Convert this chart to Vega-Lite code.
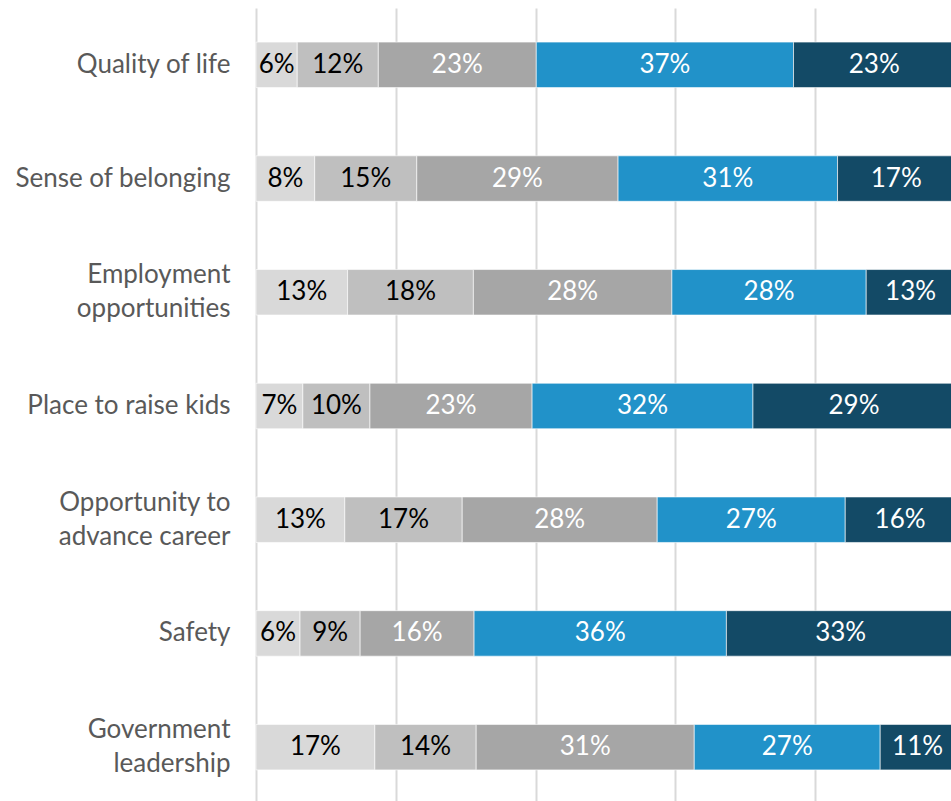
{
  "$schema": "https://vega.github.io/schema/vega-lite/v6.json",
  "width": 695,
  "height": 796,
  "autosize": {"type": "none"},
  "padding": {"left": 256, "top": 8, "right": 0, "bottom": 0},
  "background": "white",
  "config": {"view": {"stroke": null}, "font": "Lato"},
  "data": {
    "values": [
      {"item": "Quality of life", "level": 1, "share": 5.9, "label": "6%"},
      {"item": "Quality of life", "level": 2, "share": 11.6, "label": "12%"},
      {"item": "Quality of life", "level": 3, "share": 22.6, "label": "23%"},
      {"item": "Quality of life", "level": 4, "share": 36.8, "label": "37%"},
      {"item": "Quality of life", "level": 5, "share": 23.1, "label": "23%"},
      {"item": "Sense of belonging", "level": 1, "share": 8.4, "label": "8%"},
      {"item": "Sense of belonging", "level": 2, "share": 14.6, "label": "15%"},
      {"item": "Sense of belonging", "level": 3, "share": 28.8, "label": "29%"},
      {"item": "Sense of belonging", "level": 4, "share": 31.4, "label": "31%"},
      {"item": "Sense of belonging", "level": 5, "share": 16.8, "label": "17%"},
      {"item": "Employment|opportunities", "level": 1, "share": 13.1, "label": "13%"},
      {"item": "Employment|opportunities", "level": 2, "share": 18.0, "label": "18%"},
      {"item": "Employment|opportunities", "level": 3, "share": 28.4, "label": "28%"},
      {"item": "Employment|opportunities", "level": 4, "share": 27.8, "label": "28%"},
      {"item": "Employment|opportunities", "level": 5, "share": 12.7, "label": "13%"},
      {"item": "Place to raise kids", "level": 1, "share": 6.7, "label": "7%"},
      {"item": "Place to raise kids", "level": 2, "share": 9.6, "label": "10%"},
      {"item": "Place to raise kids", "level": 3, "share": 23.2, "label": "23%"},
      {"item": "Place to raise kids", "level": 4, "share": 31.6, "label": "32%"},
      {"item": "Place to raise kids", "level": 5, "share": 28.9, "label": "29%"},
      {"item": "Opportunity to|advance career", "level": 1, "share": 12.7, "label": "13%"},
      {"item": "Opportunity to|advance career", "level": 2, "share": 16.8, "label": "17%"},
      {"item": "Opportunity to|advance career", "level": 3, "share": 27.9, "label": "28%"},
      {"item": "Opportunity to|advance career", "level": 4, "share": 26.9, "label": "27%"},
      {"item": "Opportunity to|advance career", "level": 5, "share": 15.7, "label": "16%"},
      {"item": "Safety", "level": 1, "share": 6.3, "label": "6%"},
      {"item": "Safety", "level": 2, "share": 8.6, "label": "9%"},
      {"item": "Safety", "level": 3, "share": 16.3, "label": "16%"},
      {"item": "Safety", "level": 4, "share": 36.1, "label": "36%"},
      {"item": "Safety", "level": 5, "share": 32.7, "label": "33%"},
      {"item": "Government|leadership", "level": 1, "share": 17.0, "label": "17%"},
      {"item": "Government|leadership", "level": 2, "share": 14.5, "label": "14%"},
      {"item": "Government|leadership", "level": 3, "share": 31.2, "label": "31%"},
      {"item": "Government|leadership", "level": 4, "share": 26.6, "label": "27%"},
      {"item": "Government|leadership", "level": 5, "share": 10.7, "label": "11%"}
    ]
  },
  "encoding": {
    "y": {
      "field": "item",
      "type": "nominal",
      "sort": null,
      "title": null,
      "scale": {"paddingInner": 0.6, "paddingOuter": 0.3},
      "axis": {
        "domain": false,
        "ticks": false,
        "grid": false,
        "labelPadding": 26,
        "labelFont": "Lato",
        "labelFontSize": 26,
        "labelColor": "#595959",
        "labelLineHeight": 34,
        "labelLimit": 300,
        "labelOffset": {"condition": {"test": "indexof(datum.value, '|') >= 0", "value": -17}, "value": 0},
        "labelExpr": "split(datum.label, '|')"
      }
    },
    "x": {
      "field": "share",
      "type": "quantitative",
      "stack": "normalize",
      "title": null,
      "scale": {"domain": [0, 0.9943], "nice": false},
      "axis": {
        "values": [0, 0.2, 0.4, 0.6, 0.8],
        "labels": false,
        "ticks": false,
        "domain": false,
        "grid": true,
        "gridColor": "#d9d9d9",
        "gridWidth": 2
      }
    },
    "order": {"field": "level", "type": "quantitative"}
  },
  "layer": [
    {
      "mark": {"type": "bar", "stroke": "white", "strokeWidth": 0.6},
      "encoding": {
        "color": {
          "field": "level",
          "type": "ordinal",
          "legend": null,
          "scale": {"domain": [1, 2, 3, 4, 5], "range": ["#d9d9d9", "#bfbfbf", "#a6a6a6", "#2192c9", "#134a66"]}
        }
      }
    },
    {
      "mark": {"type": "text", "baseline": "middle", "align": "center", "font": "Lato", "fontSize": 26},
      "encoding": {
        "x": {"field": "share", "type": "quantitative", "stack": "normalize", "bandPosition": 0.5},
        "text": {"field": "label"},
        "color": {
          "condition": {"test": "datum.level <= 2", "value": "#000000"},
          "value": "#ffffff"
        }
      }
    }
  ]
}
